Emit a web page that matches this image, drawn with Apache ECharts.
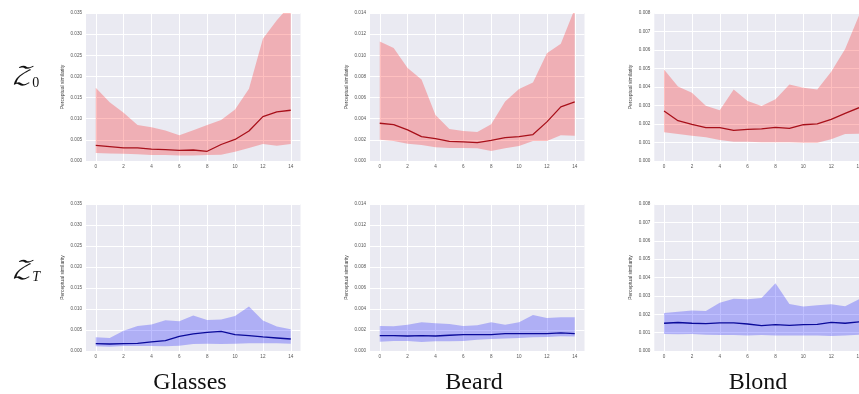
<!DOCTYPE html>
<html>
<head>
<meta charset="utf-8">
<script src="https://cdn.jsdelivr.net/npm/echarts@6/dist/echarts.min.js"></script>
<style>
html,body{margin:0;padding:0;background:#fff;}
#chart{width:859px;height:394px;}
</style>
</head>
<body>
<div id="chart"></div>
<script>
// ---- data ----
const steps = [0,1,2,3,4,5,6,7,8,9,10,11,12,13,14];
const xTicks = [0,2,4,6,8,10,12,14];

const glassesZ0Mean  = [0.0037,0.0034,0.0031,0.0031,0.0028,0.0027,0.0025,0.0026,0.0023,0.0039,0.0051,0.0071,0.0105,0.0116,0.0120];
const glassesZ0Upper = [0.0173,0.0139,0.0114,0.0085,0.0080,0.0072,0.0061,0.0073,0.0085,0.0097,0.0122,0.0171,0.0289,0.0333,0.0370];
const glassesZ0Lower = [0.0019,0.0018,0.0017,0.0016,0.0014,0.0014,0.0013,0.0013,0.0014,0.0015,0.0022,0.0031,0.0040,0.0036,0.0040];

const beardZ0Mean  = [0.00357,0.00344,0.00294,0.00231,0.00212,0.00186,0.00180,0.00174,0.00196,0.00221,0.00231,0.00250,0.00370,0.00512,0.00560];
const beardZ0Upper = [0.0113,0.0107,0.0088,0.0077,0.00436,0.00303,0.00284,0.00275,0.00348,0.00563,0.0068,0.00743,0.0102,0.0111,0.0144];
const beardZ0Lower = [0.00202,0.0019,0.00164,0.00152,0.0013,0.00123,0.00123,0.0012,0.00095,0.0012,0.00142,0.0019,0.0019,0.00243,0.0024];

const blondZ0Mean  = [0.0027,0.00218,0.00198,0.0018,0.0018,0.00165,0.00171,0.00174,0.00182,0.00176,0.00196,0.00201,0.00225,0.00257,0.00288];
const blondZ0Upper = [0.00494,0.00403,0.00369,0.00298,0.00275,0.00387,0.00325,0.00297,0.00334,0.00413,0.00396,0.00387,0.00482,0.00606,0.00787];
const blondZ0Lower = [0.00155,0.00146,0.00137,0.00129,0.00113,0.00104,0.00104,0.00102,0.00102,0.00101,0.00099,0.00099,0.00117,0.00146,0.00147];

const glassesZTMean  = [0.00175,0.00167,0.00175,0.00183,0.00215,0.00247,0.0035,0.00406,0.00445,0.00469,0.0039,0.00366,0.00334,0.0031,0.00286];
const glassesZTUpper = [0.00326,0.0031,0.00485,0.00597,0.00628,0.00732,0.00708,0.00843,0.0074,0.00748,0.00835,0.01058,0.00724,0.00581,0.00517];
const glassesZTLower = [0.00111,0.00103,0.00119,0.00119,0.00119,0.00111,0.00127,0.00167,0.00175,0.00167,0.00175,0.00183,0.00183,0.00183,0.00175];

const beardZTMean  = [0.00146,0.00146,0.00143,0.00146,0.00143,0.0015,0.00156,0.00156,0.00156,0.00165,0.00165,0.00165,0.00165,0.00172,0.00165];
const beardZTUpper = [0.00239,0.00235,0.00251,0.00274,0.00264,0.00258,0.00239,0.00245,0.00274,0.00251,0.00274,0.00344,0.00315,0.00321,0.00321];
const beardZTLower = [0.00089,0.00095,0.00095,0.00086,0.00092,0.00092,0.00095,0.00108,0.00115,0.00118,0.00124,0.0013,0.00134,0.0014,0.00137];

const blondZTMean  = [0.00151,0.00155,0.00151,0.00149,0.00153,0.00153,0.00147,0.00138,0.00144,0.0014,0.00144,0.00145,0.00156,0.00151,0.00158];
const blondZTUpper = [0.00207,0.00213,0.0022,0.00218,0.00262,0.00284,0.00282,0.00289,0.00369,0.00256,0.00242,0.00249,0.00255,0.00244,0.00282];
const blondZTLower = [0.00093,0.00091,0.00093,0.00089,0.00087,0.00087,0.00084,0.00087,0.00085,0.00085,0.00085,0.00085,0.00082,0.00084,0.00089];

const glassesYTicks = {max: 0.035, step: 0.005};
const beardYTicks   = {max: 0.014, step: 0.002};
const blondYTicks   = {max: 0.008, step: 0.001};

const columnLabels = ['Glasses', 'Beard', 'Blond'];
const yAxisName = 'Perceptual similarity';

// ---- layout / style ----
const panels = [
  {mean: glassesZ0Mean, up: glassesZ0Upper, lo: glassesZ0Lower, y: glassesYTicks, row: 0, col: 0, kind: 'red'},
  {mean: beardZ0Mean,   up: beardZ0Upper,   lo: beardZ0Lower,   y: beardYTicks,   row: 0, col: 1, kind: 'red'},
  {mean: blondZ0Mean,   up: blondZ0Upper,   lo: blondZ0Lower,   y: blondYTicks,   row: 0, col: 2, kind: 'red'},
  {mean: glassesZTMean, up: glassesZTUpper, lo: glassesZTLower, y: glassesYTicks, row: 1, col: 0, kind: 'blue'},
  {mean: beardZTMean,   up: beardZTUpper,   lo: beardZTLower,   y: beardYTicks,   row: 1, col: 1, kind: 'blue'},
  {mean: blondZTMean,   up: blondZTUpper,   lo: blondZTLower,   y: blondYTicks,   row: 1, col: 2, kind: 'blue'}
];
const colLeft = [86, 370, 654.3];
const rowTop = [13, 204];
const rowHeight = [148, 147];
const gridWidth = 214.5;
const styles = {
  red:  {band: 'rgba(255,0,0,0.25)', line: '#A8101A'},
  blue: {band: 'rgba(0,0,255,0.25)', line: '#0A0A9A'}
};
const tickFont = {fontSize: 4.6, color: '#555', fontFamily: 'Liberation Sans'};

const grid = [], xAxis = [], yAxis = [], series = [];
panels.forEach((p, i) => {
  grid.push({
    left: colLeft[p.col], top: rowTop[p.row], width: gridWidth, height: rowHeight[p.row],
    outerBoundsMode: 'none', containLabel: false,
    show: true, backgroundColor: '#EAEAF2', borderWidth: 0
  });
  xAxis.push({
    gridIndex: i, type: 'value', min: -0.7, max: 14.7,
    axisLine: {show: false},
    axisTick: {show: false, customValues: xTicks},
    axisLabel: Object.assign({margin: 3, customValues: xTicks}, tickFont),
    splitLine: {show: true, lineStyle: {color: '#ffffff', width: 1}}
  });
  yAxis.push({
    gridIndex: i, type: 'value', min: 0, max: p.y.max, interval: p.y.step,
    axisLine: {show: false}, axisTick: {show: false},
    axisLabel: Object.assign({margin: 4, formatter: v => v.toFixed(3)}, tickFont),
    splitLine: {show: true, lineStyle: {color: '#ffffff', width: 1}},
    name: yAxisName, nameLocation: 'middle', nameGap: 21,
    nameTextStyle: {fontSize: 5, color: '#444', fontFamily: 'Liberation Sans'}
  });
  const st = styles[p.kind];
  series.push({
    type: 'custom', xAxisIndex: i, yAxisIndex: i, silent: true, z: 1,
    data: [[0, 0]],
    encode: {x: 0, y: 1},
    renderItem: (params, api) => {
      const pts = [];
      steps.forEach((s, k) => pts.push(api.coord([s, p.up[k]])));
      for (let k = steps.length - 1; k >= 0; k--) pts.push(api.coord([steps[k], p.lo[k]]));
      const cs = params.coordSys;
      return {
        type: 'polygon',
        shape: {points: pts},
        style: {fill: st.band},
        clipPath: {type: 'rect', shape: {x: cs.x, y: cs.y, width: cs.width, height: cs.height}}
      };
    }
  });
  series.push({
    type: 'line', xAxisIndex: i, yAxisIndex: i,
    data: steps.map((s, k) => [s, p.mean[k]]),
    symbol: 'none', lineStyle: {color: st.line, width: 1.3}, z: 3
  });
});

const labelCenters = [190, 474, 758];
const graphic = [];
columnLabels.forEach((t, i) => {
  graphic.push({
    type: 'text', x: labelCenters[i], y: 383,
    style: {text: t, align: 'center', verticalAlign: 'middle',
            font: '24px "Liberation Serif", "DejaVu Serif", serif', fill: '#111'}
  });
});
const rowLabels = [{sub: '0', y: 77}, {sub: 'T', y: 271}];
rowLabels.forEach(r => {
  graphic.push({
    type: 'text', x: 12, y: r.y,
    style: {
      text: '{z|\u{1D4B5}}{s|' + r.sub + '}',
      verticalAlign: 'middle',
      rich: {
        z: {fontSize: 24, fontFamily: '"DejaVu Math TeX Gyre", "DejaVu Serif", serif', fill: '#111', fontStyle: 'italic'},
        s: {fontSize: 14, fontFamily: '"Liberation Serif", serif', fill: '#111', padding: [12, 0, 0, 1],
            fontStyle: r.sub === 'T' ? 'italic' : 'normal'}
      }
    }
  });
});

const chart = echarts.init(document.getElementById('chart'), null, {renderer: 'canvas'});
chart.setOption({
  animation: false,
  grid, xAxis, yAxis, series, graphic
});
</script>
</body>
</html>
